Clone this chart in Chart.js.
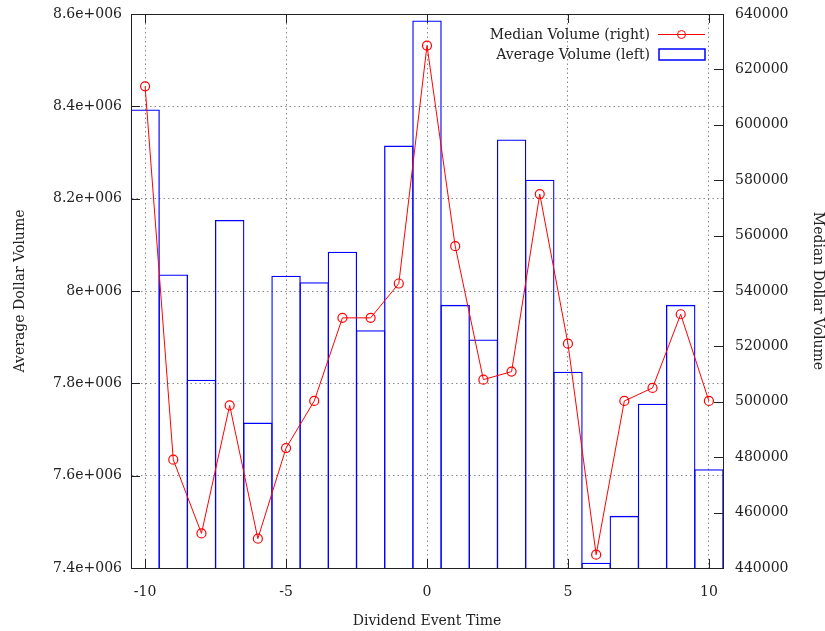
<!DOCTYPE html>
<html>
<head>
<meta charset="utf-8">
<script src="https://cdn.jsdelivr.net/npm/chart.js@4/dist/chart.umd.min.js"></script>
<style>
  body { margin: 0; background: #fff; }
  #wrap { width: 825px; height: 631px; }
</style>
</head>
<body>
<div id="wrap"><canvas id="chart" width="825" height="631"></canvas></div>
<script>
// event time relative to dividend
const eventTime = [-10, -9, -8, -7, -6, -5, -4, -3, -2, -1, 0, 1, 2, 3, 4, 5, 6, 7, 8, 9, 10];

// average dollar volume (left axis, boxes)
const avgVolume = [8393000, 8036000, 7808000, 8154000, 7715000, 8033000, 8019000, 8085000, 7915000, 8315000,
                   8586000, 7970000, 7895000, 8328000, 8241000, 7825000, 7411500, 7513000, 7756000, 7970000, 7614000];

// median dollar volume (right axis, line)
const medianVolume = [613900, 479100, 452500, 498700, 450600, 483300, 500300, 530300, 530300, 542700,
                      628600, 556200, 508000, 510900, 575000, 521000, 444800, 500300, 505000, 531600, 500300];

const xTicks = [-10, -5, 0, 5, 10];

const FONT = { family: "'DejaVu Serif', serif", size: 14 };
const INK = '#222';

// gnuplot style: ticks pointing inward + top border + legend inside the plot
const frame = {
    id: 'frame',
    afterDraw(chart) {
        const ctx = chart.ctx;
        const a = chart.chartArea;
        const x = chart.scales.x, y = chart.scales.y, yR = chart.scales.yR;
        ctx.save();
        ctx.strokeStyle = INK;
        ctx.lineWidth = 1;
        ctx.beginPath();
        ctx.moveTo(a.left, a.top + 0.5);
        ctx.lineTo(a.right, a.top + 0.5);
        xTicks.forEach(v => {
            const px = Math.round(x.getPixelForValue(v)) + 0.5;
            ctx.moveTo(px, a.bottom); ctx.lineTo(px, a.bottom - 9);
            ctx.moveTo(px, a.top); ctx.lineTo(px, a.top + 9);
        });
        y.ticks.forEach(t => {
            const py = Math.round(y.getPixelForValue(t.value)) + 0.5;
            ctx.moveTo(a.left, py); ctx.lineTo(a.left + 9, py);
        });
        yR.ticks.forEach(t => {
            const py = Math.round(yR.getPixelForValue(t.value)) + 0.5;
            ctx.moveTo(a.right, py); ctx.lineTo(a.right - 9, py);
        });
        ctx.stroke();

        // legend
        const [line, bars] = chart.data.datasets;
        ctx.font = FONT.size + 'px ' + FONT.family;
        ctx.fillStyle = INK;
        ctx.textAlign = 'right';
        ctx.textBaseline = 'middle';
        const tx = a.right - 73, sx0 = a.right - 65, sx1 = a.right - 18;
        ctx.fillText(line.label, tx, a.top + 21);
        ctx.fillText(bars.label, tx, a.top + 41);
        ctx.strokeStyle = line.borderColor;
        ctx.lineWidth = 1;
        ctx.beginPath();
        ctx.moveTo(sx0, a.top + 20.5); ctx.lineTo(sx1, a.top + 20.5);
        ctx.stroke();
        ctx.beginPath();
        ctx.arc((sx0 + sx1) / 2, a.top + 20.5, 4, 0, Math.PI * 2);
        ctx.stroke();
        ctx.strokeStyle = bars.borderColor;
        ctx.lineWidth = 1.5;
        ctx.strokeRect(sx0 + 1, a.top + 35, sx1 - sx0 - 1, 11);
        ctx.restore();
    }
};

const dots = { dash: [1.5, 3] };

new Chart(document.getElementById('chart'), {
    data: {
        datasets: [
            {
                type: 'line',
                label: 'Median Volume (right)',
                data: medianVolume.map((v, i) => ({ x: eventTime[i], y: v })),
                yAxisID: 'yR',
                borderColor: '#ff0000',
                borderWidth: 1,
                pointRadius: 4.5,
                pointBorderWidth: 1.2,
                pointBackgroundColor: 'rgba(0,0,0,0)',
                pointBorderColor: '#ff0000',
                order: 0
            },
            {
                type: 'bar',
                label: 'Average Volume (left)',
                data: avgVolume.map((v, i) => ({ x: eventTime[i], y: v })),
                yAxisID: 'y',
                backgroundColor: 'rgba(0,0,0,0)',
                borderColor: '#0000ff',
                borderWidth: 1.3,
                barPercentage: 1.045,
                categoryPercentage: 1,
                order: 1
            }
        ]
    },
    options: {
        responsive: false,
        animation: false,
        devicePixelRatio: 1,
        layout: { padding: { top: 14, right: 0, left: 0, bottom: 0 } },
        plugins: { legend: { display: false }, tooltip: { enabled: false } },
        scales: {
            x: {
                type: 'linear',
                min: -10.5,
                max: 10.5,
                offset: false,
                afterBuildTicks: s => { s.ticks = xTicks.map(v => ({ value: v })); },
                afterFit: s => { s.height = 63; s.paddingLeft = 0; s.paddingRight = 0; },
                grid: { color: '#888', drawTicks: false, offset: false },
                border: { color: INK, width: 1, ...dots },
                ticks: { font: FONT, color: INK, padding: 16, maxRotation: 0 },
                title: { display: true, text: 'Dividend Event Time', font: { ...FONT, lineHeight: 1 }, color: INK, padding: { top: 0, bottom: 3 } }
            },
            y: {
                position: 'left',
                min: 7400000,
                max: 8600000,
                afterFit: s => { s.width = 131; s.paddingTop = 0; s.paddingBottom = 0; },
                grid: { color: '#888', drawTicks: false },
                border: { color: INK, width: 1, ...dots },
                ticks: {
                    stepSize: 200000, font: FONT, color: INK, padding: 9,
                    callback: v => Number((v / 1e6).toFixed(1)) + 'e+006'
                },
                title: { display: true, text: 'Average Dollar Volume', font: { ...FONT, lineHeight: 1 }, color: INK, padding: { top: 13, bottom: 0 } }
            },
            yR: {
                position: 'right',
                min: 440000,
                max: 640000,
                afterFit: s => { s.width = 102; s.paddingTop = 0; s.paddingBottom = 0; },
                grid: { drawOnChartArea: false, drawTicks: false },
                border: { color: INK, width: 1 },
                ticks: { stepSize: 20000, font: FONT, color: INK, padding: 12, callback: v => String(v) },
                title: { display: true, text: 'Median Dollar Volume', font: { ...FONT, lineHeight: 1 }, color: INK, padding: { top: 0, bottom: 0 } }
            }
        }
    },
    plugins: [frame]
});
</script>
</body>
</html>
